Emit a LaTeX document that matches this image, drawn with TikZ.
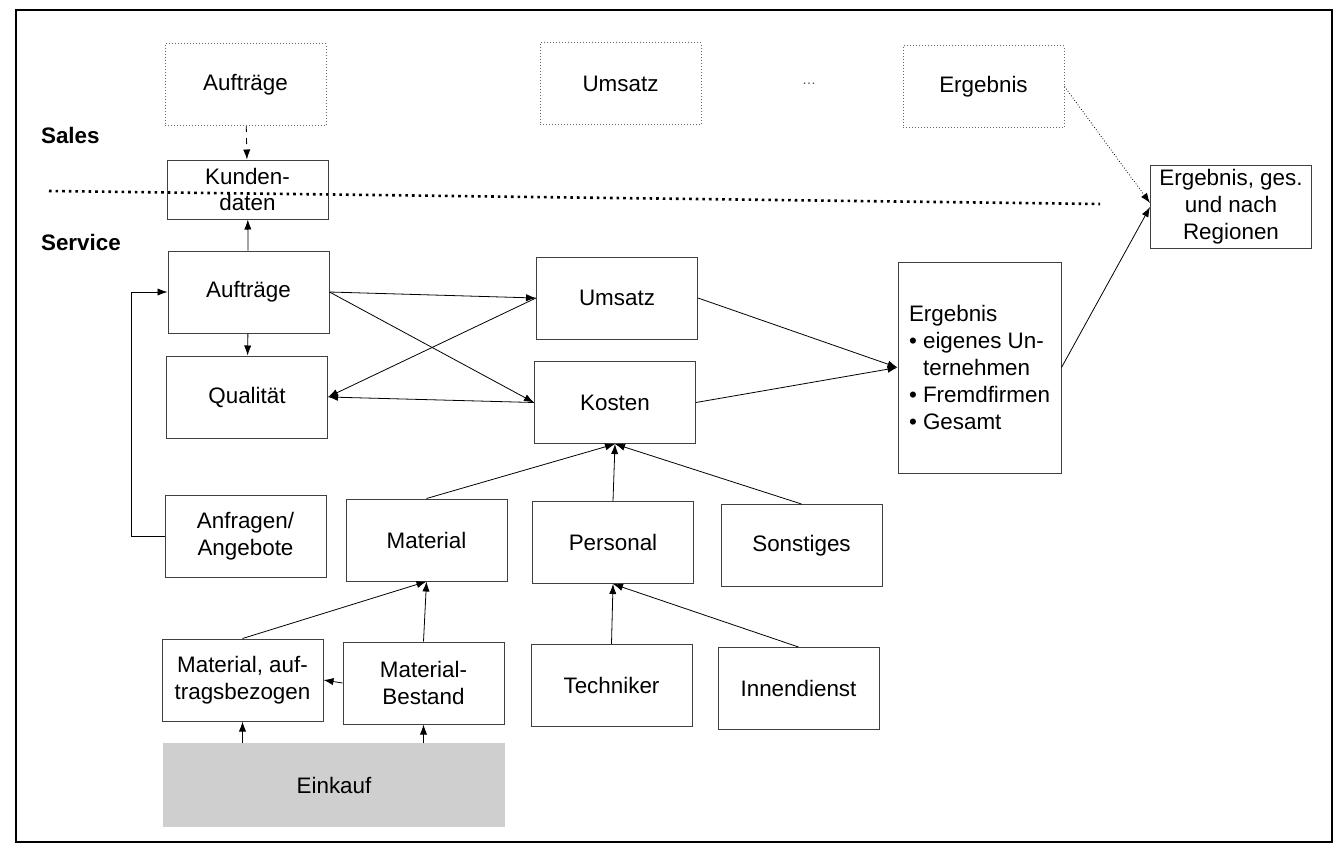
\documentclass[tikz,border=0pt]{standalone}
\usepackage{fontspec}
\setmainfont{Liberation Sans}
\usetikzlibrary{arrows.meta}

\begin{document}
\begin{tikzpicture}[x=0.5pt, y=-0.5pt,
  every node/.style={font=\fontsize{11.2pt}{13.4pt}\selectfont},
  kasten/.style={draw=black!75, line width=0.5pt, minimum width=80.5pt, minimum height=41pt, align=center, inner sep=2pt},
  vorgabe/.style={kasten, draw=black!60, densely dotted},
  >={Latex[length=5pt, width=3.6pt]}]
\useasboundingbox (0,0) rectangle (1339,852);
\draw [line width=1.1pt] (16,10) rectangle (1332,842);

% Sales
\node (AT) [vorgabe] at (245.5,84.5) {Auftr\"age};
\node (UT) [vorgabe] at (620.5,83.5) {Umsatz};
\node (PT) [text=black!70, font=\fontsize{7pt}{8pt}\selectfont] at (809,84) {\dots};
\node (ET) [vorgabe] at (983.5,86.5) {Ergebnis};
\node (S1) [anchor=west, font=\fontsize{11.2pt}{13.4pt}\selectfont\bfseries] at (34,135) {Sales};
\node (S2) [anchor=west, font=\fontsize{11.2pt}{13.4pt}\selectfont\bfseries] at (34,242) {Service};
\draw [dotted, line width=1.3pt] (49,191) -- (1100,204);
\node (KD) [kasten, minimum height=29.5pt] at (247.5,189.5) {Kunden-\\daten};
\node (EG) [kasten] at (1231,207) {Ergebnis, ges.\\und nach\\Regionen};

% Service
\node (A) [kasten] at (248.5,292) {Auftr\"age};
\node (Q) [kasten] at (247,397) {Qualit\"at};
\node (AA) [kasten] at (245.5,536) {Anfragen/\\Angebote};
\node (U) [kasten] at (617,298) {Umsatz};
\node (K) [kasten] at (615,402.5) {Kosten};
\node (E) [kasten, minimum width=81.5pt, minimum height=105.5pt, align=left] at (979.5,367.5)
  {Ergebnis\\\textbullet\ eigenes Un-\\\phantom{\textbullet\ }ternehmen\\\textbullet\ Fremdfirmen\\\textbullet\ Gesamt};
\node (M) [kasten] at (426.5,540) {Material};
\node (P) [kasten] at (613,542.5) {Personal};
\node (SO) [kasten] at (801.5,545.5) {Sonstiges};
\node (MA) [kasten] at (242.5,680) {Material, auf-\\tragsbezogen};
\node (MB) [kasten] at (423.5,683) {Material-\\Bestand};
\node (T) [kasten] at (611.5,685.5) {Techniker};
\node (I) [kasten] at (798.5,688.5) {Innendienst};
\node (EK) [fill=black!19, minimum width=171pt, minimum height=42pt] at (334,785) {Einkauf};

\draw [->, dashed] (AT) -- (KD);
\draw [->] (A) -- (KD);
\draw [->] (A) -- (Q);
\draw [->] (AA.west) -- ++(-33,0) |- (A.west);
\draw [->] (A.east) -- (U.west);
\draw [->] (A.east) -- (K.west);
\draw [->] (U.west) -- (Q.east);
\draw [->] (K.west) -- (Q.east);
\draw [->] (U.east) -- (E.west);
\draw [->] (K.east) -- (E.west);
\draw [->] (E.east) -- (EG.west);
\draw [->, densely dotted] (ET.east) -- ([yshift=2pt]EG.west);
\draw [->] (M.north) -- (K.south);
\draw [->] (P.north) -- (K.south);
\draw [->] (SO.north) -- (K.south);
\draw [->] (MA.north) -- (M.south);
\draw [->] (MB.north) -- (M.south);
\draw [->] (MB.west) -- (MA.east);
\draw [->] (T.north) -- (P.south);
\draw [->] (I.north) -- (P.south);
\draw [->] (EK.north -| MA.south) -- (MA.south);
\draw [->] (EK.north -| MB.south) -- (MB.south);
\end{tikzpicture}
\end{document}
